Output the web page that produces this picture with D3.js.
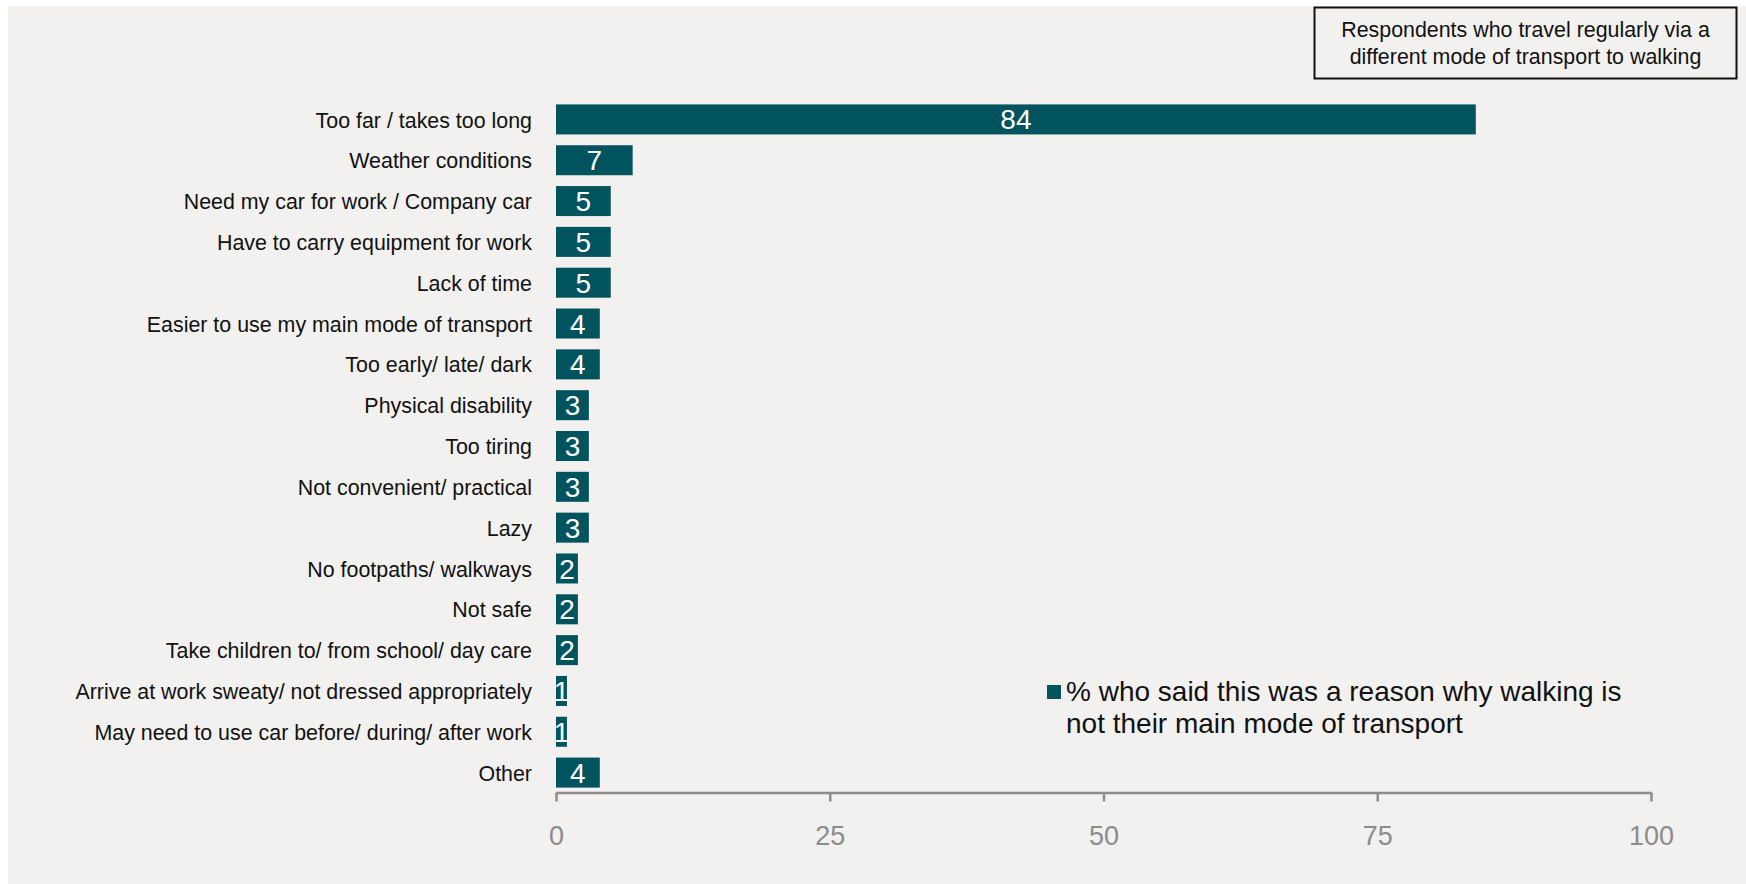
<!DOCTYPE html>
<html>
<head>
<meta charset="utf-8">
<script src="https://cdn.jsdelivr.net/npm/d3@7"></script>
<style>
  html, body { margin: 0; padding: 0; background: #ffffff; }
  svg { display: block; font-family: "Liberation Sans", Arial, sans-serif; }
</style>
</head>
<body>
<svg id="chart" width="1746" height="884"></svg>
<script>
// Reasons why walking is not the main mode of transport (%)
const categories = [
  "Too far / takes too long",
  "Weather conditions",
  "Need my car for work / Company car",
  "Have to carry equipment for work",
  "Lack of time",
  "Easier to use my main mode of transport",
  "Too early/ late/ dark",
  "Physical disability",
  "Too tiring",
  "Not convenient/ practical",
  "Lazy",
  "No footpaths/ walkways",
  "Not safe",
  "Take children to/ from school/ day care",
  "Arrive at work sweaty/ not dressed appropriately",
  "May need to use car before/ during/ after work",
  "Other"
];
const values = [84, 7, 5, 5, 5, 4, 4, 3, 3, 3, 3, 2, 2, 2, 1, 1, 4];
const xTicks = [0, 25, 50, 75, 100];
const legendLines = ["% who said this was a reason why walking is", "not their main mode of transport"];
const noteLines = ["Respondents who travel regularly via a", "different mode of transport to walking"];

const barColor = "#01535e";
const axisColor = "#8c8c8c";

const svg = d3.select("#chart");

// panel background
svg.append("rect")
  .attr("x", 8).attr("y", 6)
  .attr("width", 1746 - 8).attr("height", 884 - 6)
  .attr("fill", "#f2f1ef");

const x = d3.scaleLinear().domain([0, 100]).range([556, 1651]);
const y = d3.scaleBand()
  .domain(categories)
  .range([99, 793])
  .paddingInner(0.265)
  .paddingOuter(0.1325);

const data = categories.map((c, i) => ({ cat: c, val: values[i] }));

// bars
svg.append("g").selectAll("rect")
  .data(data)
  .join("rect")
  .attr("x", x(0))
  .attr("y", d => y(d.cat))
  .attr("width", d => x(d.val) - x(0))
  .attr("height", y.bandwidth())
  .attr("fill", barColor);

// value labels inside bars
svg.append("g").selectAll("text")
  .data(data)
  .join("text")
  .attr("x", d => (x(0) + x(d.val)) / 2)
  .attr("y", d => y(d.cat) + y.bandwidth() / 2)
  .attr("dy", "0.36em")
  .attr("text-anchor", "middle")
  .attr("fill", "#ffffff")
  .attr("font-size", 28)
  .text(d => d.val);

// category labels
svg.append("g").selectAll("text")
  .data(data)
  .join("text")
  .attr("x", 532)
  .attr("y", d => y(d.cat) + y.bandwidth() / 2)
  .attr("dy", "0.38em")
  .attr("text-anchor", "end")
  .attr("fill", "#111111")
  .attr("font-size", 21.4)
  .text(d => d.cat);

// x axis
const xAxis = d3.axisBottom(x)
  .tickValues(xTicks)
  .tickSize(9)
  .tickSizeOuter(0)
  .tickPadding(24);

const gx = svg.append("g")
  .attr("transform", "translate(0,792.5)")
  .call(xAxis);
gx.select(".domain").attr("stroke", axisColor).attr("stroke-width", 2.5);
gx.selectAll(".tick line").attr("stroke", axisColor).attr("stroke-width", 2.5);
gx.selectAll(".tick text")
  .attr("fill", axisColor)
  .attr("font-size", 27)
  .attr("font-family", "Liberation Sans, Arial, sans-serif");

// legend
const legend = svg.append("g");
legend.append("rect")
  .attr("x", 1047).attr("y", 685)
  .attr("width", 14).attr("height", 14)
  .attr("fill", barColor);
legend.selectAll("text")
  .data(legendLines)
  .join("text")
  .attr("x", 1066)
  .attr("y", (d, i) => 701 + i * 32)
  .attr("fill", "#111111")
  .attr("font-size", 28)
  .text(d => d);

// note box
const note = svg.append("g");
note.append("rect")
  .attr("x", 1314.5).attr("y", 7.5)
  .attr("width", 422).attr("height", 71)
  .attr("fill", "#f2f1ef")
  .attr("stroke", "#111111")
  .attr("stroke-width", 2);
note.selectAll("text")
  .data(noteLines)
  .join("text")
  .attr("x", 1525.5)
  .attr("y", (d, i) => 37 + i * 26.5)
  .attr("text-anchor", "middle")
  .attr("fill", "#111111")
  .attr("font-size", 21.4)
  .text(d => d);
</script>
</body>
</html>
